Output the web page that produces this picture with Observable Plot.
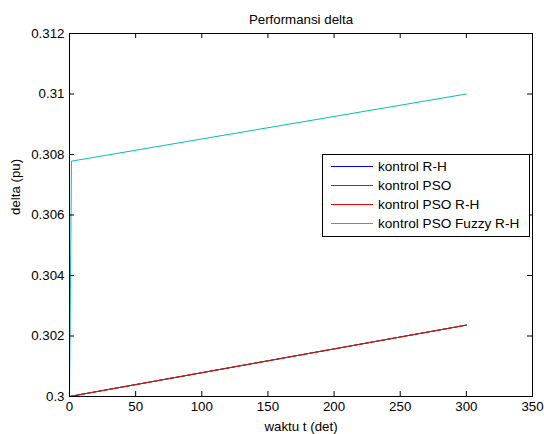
<!DOCTYPE html>
<html>
<head>
<meta charset="utf-8">
<script src="https://cdn.jsdelivr.net/npm/d3@7"></script>
<script src="https://cdn.jsdelivr.net/npm/@observablehq/plot@0.6"></script>
<style>
  html, body { margin: 0; padding: 0; background: #fff; }
  #wrap { position: relative; width: 544px; height: 434px; font-family: "Liberation Sans", Arial, sans-serif; }
  #legend { position: absolute; left: 322px; top: 154px; width: 208px; height: 83px; border: 1px solid #000; background: #fff; box-sizing: border-box; font-size: 13.6px; }
  .row { position: absolute; left: 8px; height: 14px; display: flex; align-items: center; white-space: nowrap; }
  .row .sw { width: 42px; height: 0; border-top: 1px solid; margin-right: 5px; }
</style>
</head>
<body>
<div id="wrap"><div id="legend"></div></div>
<script>
const seriesNames = ["kontrol R-H", "kontrol PSO", "kontrol PSO R-H", "kontrol PSO Fuzzy R-H"];
const seriesColors = ["#0000ff", "#008000", "#ff0000", "#00bfbf"];
const rhT = [0, 300];
const rhV = [0.3, 0.30236];
const psoT = [0, 300];
const psoV = [0.3, 0.30236];
const psoRhT = [0, 300];
const psoRhV = [0.3, 0.30236];
const fuzzyT = [0, 1.5, 300];
const fuzzyV = [0.3, 0.30778, 0.3100];
const xTicks = [0, 50, 100, 150, 200, 250, 300, 350];
const yTicks = [0.3, 0.302, 0.304, 0.306, 0.308, 0.31, 0.312];
const yTickLabels = ["0.3", "0.302", "0.304", "0.306", "0.308", "0.31", "0.312"];
const title = "Performansi delta";
const xLabel = "waktu t (det)";
const yLabel = "delta (pu)";

const lines = [
  [rhT, rhV], [psoT, psoV], [psoRhT, psoRhV], [fuzzyT, fuzzyV]
].flatMap(([t, v], i) => t.map((tt, j) => ({series: seriesNames[i], t: tt, v: v[j]})));

const xDom = [0, 350], yDom = [0.3, 0.312];
const tickLenX = 5 * (xDom[1] - xDom[0]) / 463;
const tickLenY = 5 * (yDom[1] - yDom[0]) / 363;

const chart = Plot.plot({
  width: 544,
  height: 434,
  marginLeft: 69,
  marginRight: 12,
  marginTop: 33,
  marginBottom: 38,
  style: {fontFamily: "Liberation Sans, Arial, sans-serif", fontSize: "13.3px", color: "#000", background: "#fff"},
  x: {domain: xDom, ticks: xTicks, tickSize: 0, tickPadding: 5, label: null, tickFormat: d => String(d)},
  y: {domain: yDom, ticks: yTicks, tickSize: 0, tickPadding: 5, label: null, tickFormat: d => yTickLabels[yTicks.findIndex(v => Math.abs(v - d) < 1e-9)]},
  color: {domain: seriesNames, range: seriesColors},
  marks: [
    Plot.line(lines, {x: "t", y: "v", z: "series", stroke: "series", strokeWidth: 1}),
    Plot.ruleX(xTicks, {x: d => d, y1: yDom[0], y2: yDom[0] + tickLenY, stroke: "#000"}),
    Plot.ruleX(xTicks, {x: d => d, y1: yDom[1], y2: yDom[1] - tickLenY, stroke: "#000"}),
    Plot.ruleY(yTicks, {y: d => d, x1: xDom[0], x2: xDom[0] + tickLenX, stroke: "#000"}),
    Plot.ruleY(yTicks, {y: d => d, x1: xDom[1], x2: xDom[1] - tickLenX, stroke: "#000"}),
    Plot.frame({stroke: "#000", strokeWidth: 1}),
    Plot.text([title], {frameAnchor: "top", dy: -18.5, text: d => d, fontSize: 13.3}),
    Plot.text([xLabel], {frameAnchor: "bottom", dy: 34, text: d => d, fontSize: 13.3}),
    Plot.text([yLabel], {frameAnchor: "left", dx: -54, rotate: -90, text: d => d, fontSize: 13.3})
  ]
});
const wrap = document.getElementById("wrap");
wrap.insertBefore(chart, wrap.firstChild);

const legend = document.getElementById("legend");
const rowTops = [4, 23, 42, 61];
seriesNames.forEach((name, i) => {
  const row = document.createElement("div");
  row.className = "row";
  row.style.top = rowTops[i] + "px";
  const sw = document.createElement("span");
  sw.className = "sw";
  sw.style.borderTopColor = seriesColors[i];
  const lab = document.createElement("span");
  lab.textContent = name;
  row.appendChild(sw);
  row.appendChild(lab);
  legend.appendChild(row);
});
</script>
</body>
</html>
